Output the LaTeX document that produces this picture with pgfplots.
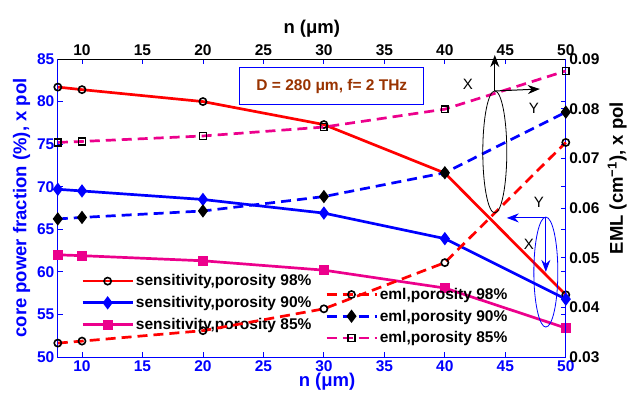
\documentclass[border=0pt]{standalone}
\usepackage{fontspec}
\setmainfont{Liberation Sans}
\usepackage{pgfplots}
\pgfplotsset{compat=1.18}
\usetikzlibrary{arrows.meta}
\definecolor{browntxt}{RGB}{153,51,0}
\pgfplotsset{every axis/.append style={
  scale only axis, width=508bp, height=298bp,
  at={(0,0)}, anchor=south west,
  xmin=8, xmax=50, xtick={10,15,...,50},
  /pgf/number format/assume math mode=true,
  tick label style={font=\fontsize{15.5bp}{18bp}\selectfont\bfseries},
  xticklabel={\bfseries\pgfmathprintnumber{\tick}},
  label style={font=\fontsize{18.5bp}{22bp}\selectfont\bfseries},
  tick align=inside, major tick length=5bp,
  tick style={blue, line width=0.8bp},
  legend cell align=left,
  legend image code/.code={\draw[mark repeat=2,mark phase=2,#1] plot coordinates {(0bp,0bp)(25bp,0bp)(50bp,0bp)};},
}}
\begin{document}
\begin{tikzpicture}
\useasboundingbox (-57.8bp,-41bp) rectangle (569.2bp,357bp);
\begin{axis}[
  ymin=50, ymax=85, ytick={50,55,...,85},
  yticklabel={\bfseries\pgfmathprintnumber{\tick}},
  axis line style={blue, line width=0.8bp},
  xtick pos=both, ytick pos=both,
  xticklabel pos=lower, yticklabel pos=left,
  xticklabel style={blue}, yticklabel style={blue},
  xlabel={n (μm)}, xlabel style={blue, at={(axis description cs:0.53,-0.045)}, anchor=north, inner sep=2bp},
  ylabel={core power fraction (\%), x pol}, ylabel style={blue},
  legend style={draw=none, fill=none, font=\fontsize{15.5bp}{18bp}\selectfont\bfseries,
    at={(axis description cs:0.04,0.29)}, anchor=north west, row sep=5bp},
  clip=false,
]
\addplot[red, line width=2.7bp, mark=o, mark size=3.6bp, mark options={black, line width=1.6bp, solid}]
  coordinates {(8,81.7)(10,81.4)(20,80.0)(30,77.3)(40,71.6)(50,57.3)};
\addlegendentry{sensitivity,porosity 98\%}
\addplot[blue, line width=2.7bp, mark=diamond*, mark size=4.5bp, mark options={blue, fill=blue, solid}]
  coordinates {(8,69.7)(10,69.5)(20,68.5)(30,66.9)(40,63.9)(50,56.8)};
\addlegendentry{sensitivity,porosity 90\%}
\addplot[magenta, line width=2.7bp, mark=square*, mark size=3.6bp, mark options={magenta, fill=magenta, solid}]
  coordinates {(8,62.0)(10,61.9)(20,61.3)(30,60.2)(40,58.1)(50,53.4)};
\addlegendentry{sensitivity,porosity 85\%}
\end{axis}
\begin{axis}[
  ymin=0.03, ymax=0.09, ytick={0.03,0.04,0.05,0.06,0.07,0.08,0.09},
  scaled y ticks=false,
  yticklabel={\bfseries\pgfmathprintnumber[fixed,fixed zerofill,precision=2]{\tick}},
  axis x line*=top, axis y line*=right,
  x axis line style={black, line width=0.8bp, -},
  y axis line style={blue, line width=0.8bp, -},
  xlabel={n (μm)}, xlabel style={black},
  ylabel={EML (cm\textsuperscript{−1}), x pol},
  ylabel style={black, at={(axis description cs:1.08,0.6)}, anchor=north, inner sep=1bp},
  legend style={draw=none, fill=none, font=\fontsize{15.5bp}{18bp}\selectfont\bfseries,
    at={(axis description cs:0.52,0.245)}, anchor=north west, row sep=5bp},
  clip=false,
]
\addplot[red, line width=2.7bp, dash pattern=on 10bp off 6bp, mark=o, mark size=3.6bp, mark options={black, line width=1.6bp, solid}]
  coordinates {(8,0.0328)(10,0.0332)(20,0.0353)(30,0.0397)(40,0.0490)(50,0.0732)};
\addlegendentry{eml,porosity 98\%}
\addplot[blue, line width=2.7bp, dash pattern=on 10bp off 6bp, mark=diamond*, mark size=4.5bp, mark options={black, fill=black, solid}]
  coordinates {(8,0.0578)(10,0.0581)(20,0.0594)(30,0.0623)(40,0.0671)(50,0.0793)};
\addlegendentry{eml,porosity 90\%}
\addplot[magenta, line width=2.7bp, dash pattern=on 10bp off 6bp, mark=square, mark size=3.4bp, mark options={black, line width=1.6bp, fill=white, solid}]
  coordinates {(8,0.0732)(10,0.0734)(20,0.0745)(30,0.0763)(40,0.0799)(50,0.0876)};
\addlegendentry{eml,porosity 85\%}
% annotation box
\node[draw=blue, line width=1bp, fill=white, minimum width=184bp, minimum height=37bp,
  text=browntxt, font=\fontsize{15.5bp}{18bp}\selectfont\bfseries]
  at (axis cs:30.66,0.08457) {D = 280 μm, f= 2 THz};
% black polarisation sketch
\draw[black, line width=0.8bp] (axis cs:44.13,0.07129) ellipse [x radius=12bp, y radius=61bp];
\draw[black, line width=1bp, -{Stealth[length=12bp,width=9bp]}] (axis cs:44.13,0.08356) -- (axis cs:44.13,0.0908);
\draw[black, line width=1bp, -{Stealth[length=12bp,width=9bp]}] (axis cs:44.13,0.08356) -- (axis cs:47.85,0.08396);
\node[font=\fontsize{15bp}{18bp}\selectfont] at (axis cs:41.9,0.08497) {X};
\node[font=\fontsize{15bp}{18bp}\selectfont] at (axis cs:47.36,0.08014) {Y};
% blue polarisation sketch
\draw[blue, line width=0.8bp] (axis cs:48.35,0.0471) ellipse [x radius=12bp, y radius=55bp];
\draw[blue, line width=1bp, -{Stealth[length=12bp,width=9bp]}] (axis cs:48.35,0.0580) -- (axis cs:45.12,0.0580);
\draw[blue, line width=1bp, -{Stealth[length=12bp,width=9bp]}] (axis cs:48.35,0.0580) -- (axis cs:48.35,0.04714);
\node[font=\fontsize{15bp}{18bp}\selectfont] at (axis cs:47.77,0.06123) {Y};
\node[font=\fontsize{15bp}{18bp}\selectfont, fill=white, inner sep=0.5bp] at (axis cs:46.94,0.05278) {X};
\end{axis}
\end{tikzpicture}
\end{document}
